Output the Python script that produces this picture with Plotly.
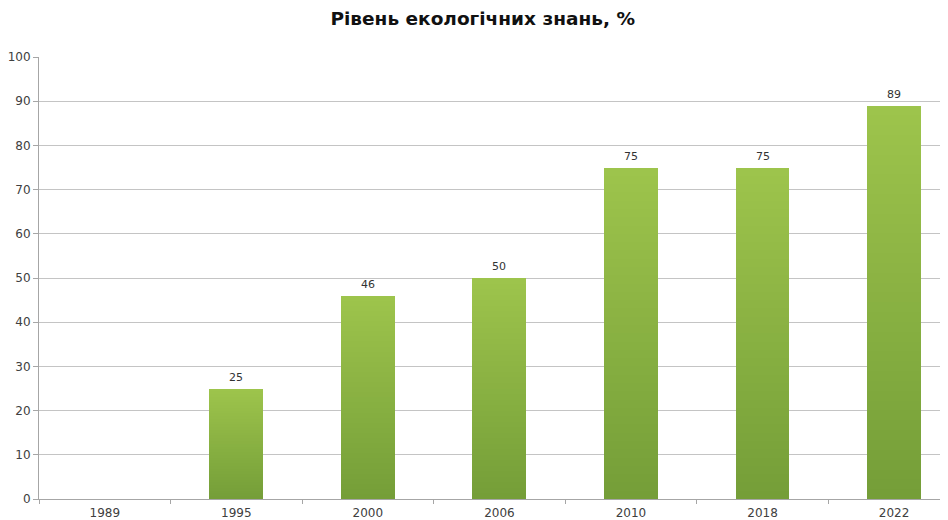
import plotly.graph_objects as go

years = ["1989", "1995", "2000", "2006", "2010", "2018", "2022"]
values = [0, 25, 46, 50, 75, 75, 89]
labels = ["", "25", "46", "50", "75", "75", "89"]
title_text = "Рівень екологічних знань, %"

N = 40
bottom_rgb = (0x74, 0x9E, 0x38)
top_rgb = (0x9E, 0xC4, 0x4C)

fig = go.Figure()
for i in range(N):
    t = (i + 0.5) / N
    c = tuple(round(b + (tp - b) * t) for b, tp in zip(bottom_rgb, top_rgb))
    fig.add_trace(go.Bar(
        x=years, y=[v / N for v in values],
        marker=dict(color="rgb(%d,%d,%d)" % c, line=dict(width=0)),
        width=0.41, showlegend=False, hoverinfo="skip",
    ))

# category axis: annotation x given as category index
for idx, (v, lab) in enumerate(zip(values, labels)):
    if lab:
        fig.add_annotation(
            x=idx, y=v, text=lab, showarrow=False,
            xanchor="center", yanchor="bottom", yshift=3,
            font=dict(family="DejaVu Sans", size=11, color="#333333"),
        )

fig.update_layout(
    width=940, height=512,
    margin=dict(l=31, r=0, t=49, b=21),
    paper_bgcolor="white", plot_bgcolor="white",
    barmode="stack", bargap=0,
    title=dict(text="<b>" + title_text + "</b>", x=0.505, xanchor="center",
               y=0.98, yanchor="middle",
               font=dict(family="DejaVu Sans", size=18.5, color="#111111")),
    font=dict(family="DejaVu Sans", size=12, color="#404040"),
)
fig.update_xaxes(
    type="category", range=[-0.5, 6.41],
    showline=True, linecolor="#A6A6A6", linewidth=1,
    ticks="outside", tickson="boundaries", ticklen=4, tickcolor="#A6A6A6",
    ticklabelstandoff=3,
    showgrid=False, tickfont=dict(size=12, color="#404040"),
)
fig.update_yaxes(
    range=[0, 100], dtick=10,
    showline=True, linecolor="#A6A6A6", linewidth=1,
    ticks="outside", ticklen=5, tickcolor="#A6A6A6",
    showgrid=True, gridcolor="#C4C4C4", gridwidth=1,
    zeroline=False, tickfont=dict(size=12, color="#404040"),
)

fig.write_html("out.html")
